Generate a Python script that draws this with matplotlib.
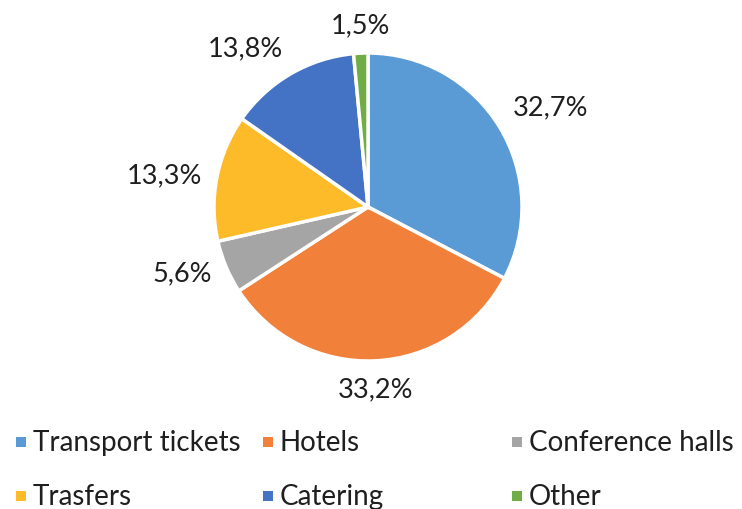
import numpy as np
import matplotlib
matplotlib.use("Agg")
import matplotlib.pyplot as plt
from matplotlib.patches import Rectangle

# Data
categories = ["Transport tickets", "Hotels", "Conference halls", "Trasfers", "Catering", "Other"]
shares = [32.7, 33.2, 5.6, 13.3, 13.8, 1.5]
share_labels = ["32,7%", "33,2%", "5,6%", "13,3%", "13,8%", "1,5%"]
colors = ["#5B9BD5", "#F0803A", "#A5A5A5", "#FDBB2A", "#4472C4", "#70AD47"]

plt.rcParams['font.family'] = ['Lato', 'DejaVu Sans']

fig = plt.figure(figsize=(7.42, 5.10), dpi=100)
W, H = 742, 510
# pie axes: center (368, 208), radius ~154 px
r = 154
cx, cy = 368, 208
ax = fig.add_axes([(cx - r) / W, 1 - (cy + r) / H, 2 * r / W, 2 * r / H])

wedges, _ = ax.pie(shares, colors=colors, startangle=90, counterclock=False,
                   wedgeprops=dict(edgecolor="white", linewidth=2.5))
ax.set_xlim(-1, 1)
ax.set_ylim(-1, 1)
ax.set_aspect("equal")

# outside labels, Excel style
for w, lab in zip(wedges, share_labels):
    ang = np.deg2rad((w.theta1 + w.theta2) / 2)
    c, s = np.cos(ang), np.sin(ang)
    x, y = 1.1 * c, 1.1 * s
    ha = "left" if c > 0.1 else ("right" if c < -0.1 else "center")
    va = "bottom" if s > 0.5 else ("top" if s < -0.5 else "center")
    ax.text(x, y, lab, ha=ha, va=va, fontsize=19.5, color="#1F1F1F", clip_on=False)

# legend drawn by hand, fixed column grid like Excel
col_x = [16, 263, 512]
row_y = [443, 497]
box = 10
for i, (name, col) in enumerate(zip(categories, colors)):
    x = col_x[i % 3]
    y = row_y[i // 3]
    fig.patches.append(Rectangle((x / W, 1 - (y + box / 2) / H), box / W, box / H,
                                 transform=fig.transFigure, facecolor=col, edgecolor="none"))
    fig.text((x + 17) / W, 1 - y / H, name, ha="left", va="center",
             fontsize=20, color="#1F1F1F")

fig.savefig("out.png", dpi=100)
